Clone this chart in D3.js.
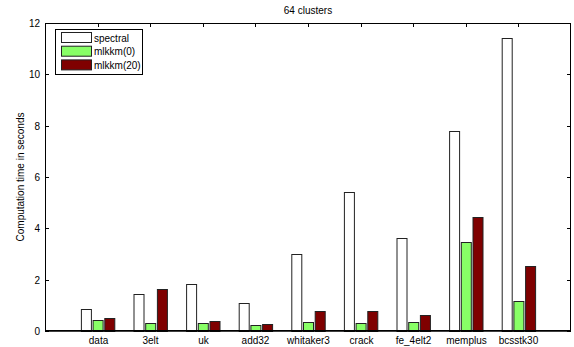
<!DOCTYPE html>
<html><head><meta charset="utf-8">
<script src="https://cdn.jsdelivr.net/npm/d3@7"></script>
<style>body{margin:0;background:#fff}svg{display:block;font-family:"Liberation Sans",Arial,sans-serif}</style>
</head><body><svg id="c" width="574" height="347"></svg>
<script>
const categories = ["data","3elt","uk","add32","whitaker3","crack","fe_4elt2","memplus","bcsstk30"];
const seriesNames = ["spectral","mlkkm(0)","mlkkm(20)"];
const spectral = [0.85,1.44,1.84,1.09,3.01,5.42,3.61,7.80,11.40];
const mlkkm0 = [0.42,0.30,0.32,0.25,0.34,0.32,0.36,3.48,1.18];
const mlkkm20 = [0.49,1.62,0.39,0.28,0.78,0.79,0.64,4.45,2.53];
const colors = ["#ffffff","#88ff66","#7f0000"];
const yTicks = [0,2,4,6,8,10,12];

const svg = d3.select("#c");
const L=45,R=571,T=23,B=331;
const x = d3.scaleLinear().domain([0,10]).range([L,R]);
const y = d3.scaleLinear().domain([0,12]).range([B,T]);
const series=[spectral,mlkkm0,mlkkm20];
const bw=10, step=11.7;

svg.append("text").attr("x",(L+R)/2).attr("y",14).attr("text-anchor","middle")
  .attr("font-size",10).text("64 clusters");

const tl=4;
// bottom ticks beneath bars
categories.forEach((c,i)=>{
  const xx=Math.round(x(i+1))+0.5;
  svg.append("line").attr("x1",xx).attr("x2",xx).attr("y1",B-tl).attr("y2",B).attr("stroke","#000");
});

const g=svg.append("g");
series.forEach((s,si)=>{
  g.selectAll(null).data(s).enter().append("rect")
   .attr("x",(d,i)=>x(i+1)+(si-1)*step-bw/2+0.5)
   .attr("y",d=>Math.round(y(d))+0.5)
   .attr("width",bw).attr("height",d=>B-Math.round(y(d)))
   .attr("fill",colors[si]).attr("stroke","#222").attr("stroke-width",1);
});

// axes box
svg.append("rect").attr("x",L+0.5).attr("y",T+0.5).attr("width",R-L-1).attr("height",B-T-1)
  .attr("fill","none").attr("stroke","#000").attr("stroke-width",1);
svg.append("line").attr("x1",L).attr("x2",R).attr("y1",B).attr("y2",B).attr("stroke","#000").attr("stroke-width",1.5);

yTicks.forEach(v=>{
  const yy=Math.round(y(v))+0.5;
  svg.append("line").attr("x1",L).attr("x2",L+tl).attr("y1",yy).attr("y2",yy).attr("stroke","#000");
  svg.append("line").attr("x1",R-tl).attr("x2",R).attr("y1",yy).attr("y2",yy).attr("stroke","#000");
  svg.append("text").attr("x",L-5).attr("y",yy+3.5).attr("text-anchor","end").attr("font-size",10).text(v);
});
categories.forEach((c,i)=>{
  const xx=Math.round(x(i+1))+0.5;
  svg.append("line").attr("x1",xx).attr("x2",xx).attr("y1",T).attr("y2",T+tl).attr("stroke","#000");
  svg.append("text").attr("x",xx).attr("y",344).attr("text-anchor","middle").attr("font-size",10).text(c);
});

svg.append("text").attr("transform","translate(24,177) rotate(-90)").attr("text-anchor","middle")
  .attr("font-size",10).text("Computation time in seconds");

// legend
const lg=svg.append("g");
lg.append("rect").attr("x",55.5).attr("y",29.5).attr("width",87).attr("height",45)
  .attr("fill","#fff").attr("stroke","#000");
seriesNames.forEach((n,i)=>{
  const yy=32.5+i*13.7;
  lg.append("rect").attr("x",61.5).attr("y",yy).attr("width",30).attr("height",10)
    .attr("fill",colors[i]).attr("stroke","#222");
  lg.append("text").attr("x",94).attr("y",yy+9).attr("font-size",10).text(n);
});
</script></body></html>
